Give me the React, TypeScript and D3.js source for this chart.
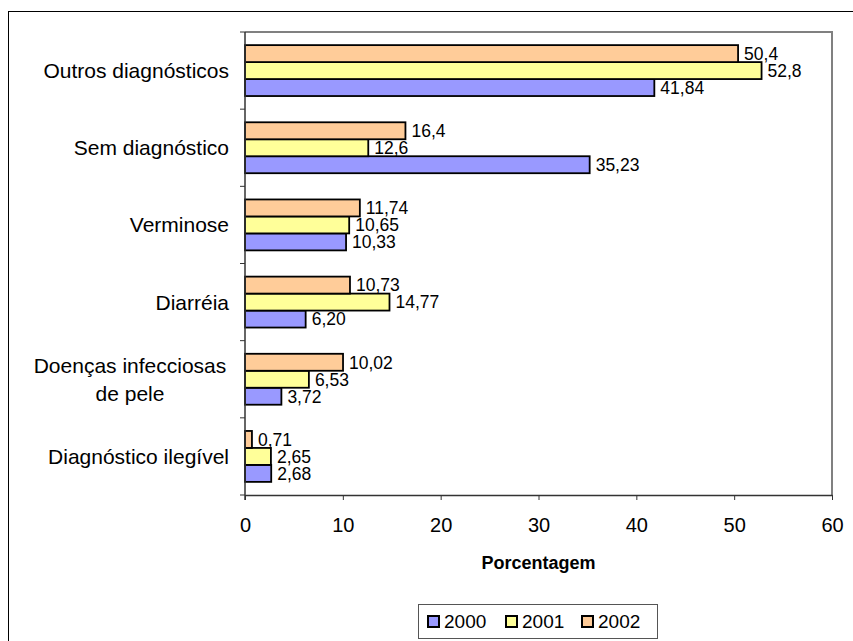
import { useEffect, useRef } from 'react';
import * as d3 from 'd3';

// categories top to bottom
const categories = [
  'Outros diagnósticos',
  'Sem diagnóstico',
  'Verminose',
  'Diarréia',
  'Doenças infecciosas de pele',
  'Diagnóstico ilegível',
];
const years = ['2000', '2001', '2002'];
const values2000 = [41.84, 35.23, 10.33, 6.2, 3.72, 2.68];
const values2001 = [52.8, 12.6, 10.65, 14.77, 6.53, 2.65];
const values2002 = [50.4, 16.4, 11.74, 10.73, 10.02, 0.71];
const labels2000 = ['41,84', '35,23', '10,33', '6,20', '3,72', '2,68'];
const labels2001 = ['52,8', '12,6', '10,65', '14,77', '6,53', '2,65'];
const labels2002 = ['50,4', '16,4', '11,74', '10,73', '10,02', '0,71'];
const xTicks = [0, 10, 20, 30, 40, 50, 60];

const colors = { '2000': '#9999ff', '2001': '#ffff99', '2002': '#ffcc99' };
const FONT = 'Liberation Sans, Arial, sans-serif';

const App = () => {
  const chartRef = useRef<SVGSVGElement>(null);

  useEffect(() => {
    const svg = d3.select(chartRef.current);
    svg.selectAll('*').remove();

    const left = 245, right = 832, top = 32, bottom = 495;

    // outer frame
    svg.append('rect')
      .attr('x', 8.5).attr('y', 11.5)
      .attr('width', 900).attr('height', 700)
      .attr('fill', 'white').attr('stroke', 'black');

    const x = d3.scaleLinear().domain([0, 60]).range([left, right]);
    const y = d3.scaleBand().domain(categories).range([top, bottom]).paddingInner(0.34).paddingOuter(0.17);
    // order in a group: 2002 on top, 2000 at bottom
    const inner = d3.scaleBand().domain(['2002', '2001', '2000']).range([0, y.bandwidth()]);

    // plot area border (gray top/right)
    svg.append('path')
      .attr('d', `M${left},${top}H${right}V${bottom}`)
      .attr('fill', 'none').attr('stroke', '#808080').attr('stroke-width', 2);

    const series = [
      { year: '2000', values: values2000, labels: labels2000 },
      { year: '2001', values: values2001, labels: labels2001 },
      { year: '2002', values: values2002, labels: labels2002 },
    ];

    series.forEach((s) => {
      const g = svg.append('g');
      g.selectAll('rect')
        .data(s.values)
        .enter()
        .append('rect')
        .attr('x', x(0))
        .attr('y', (d, i) => y(categories[i])! + inner(s.year)!)
        .attr('width', (d) => x(d) - x(0))
        .attr('height', inner.bandwidth())
        .attr('fill', colors[s.year])
        .attr('stroke', 'black')
        .attr('stroke-width', 1.8);
      g.selectAll('text')
        .data(s.values)
        .enter()
        .append('text')
        .attr('x', (d) => x(d) + 6)
        .attr('y', (d, i) => y(categories[i])! + inner(s.year)! + inner.bandwidth() / 2)
        .attr('dy', '0.36em')
        .attr('font-family', FONT)
        .attr('font-size', 17.5)
        .text((d, i) => s.labels[i]);
    });

    // X axis
    const xAxis = svg.append('g')
      .attr('transform', `translate(0,${bottom})`)
      .call(d3.axisBottom(x).tickValues(xTicks).tickSize(5).tickSizeOuter(0).tickFormat(d3.format('d')));
    xAxis.select('.domain').attr('stroke', '#333').attr('stroke-width', 1.5);
    xAxis.selectAll('.tick line').attr('stroke', '#333');
    xAxis.selectAll('text')
      .attr('font-family', FONT).attr('font-size', 20).attr('fill', 'black')
      .attr('y', 37).attr('dy', 0);

    // Y axis with ticks between categories
    svg.append('line')
      .attr('x1', left).attr('x2', left).attr('y1', top).attr('y2', bottom + 5)
      .attr('stroke', '#333').attr('stroke-width', 1.5);
    const step = (bottom - top) / categories.length;
    d3.range(categories.length + 1).forEach((i) => {
      svg.append('line')
        .attr('x1', left - 5).attr('x2', left)
        .attr('y1', top + i * step).attr('y2', top + i * step)
        .attr('stroke', '#333');
    });

    // category labels
    categories.forEach((c) => {
      const cy = y(c)! + y.bandwidth() / 2;
      if (c === 'Doenças infecciosas de pele') {
        const t = svg.append('text')
          .attr('font-family', FONT).attr('font-size', 21).attr('text-anchor', 'middle');
        t.append('tspan').attr('x', 130).attr('y', cy - 14).attr('dy', '0.36em').text('Doenças infecciosas');
        t.append('tspan').attr('x', 130).attr('y', cy + 14).attr('dy', '0.36em').text('de pele');
      } else {
        svg.append('text')
          .attr('x', 229).attr('y', cy).attr('dy', '0.36em')
          .attr('text-anchor', 'end')
          .attr('font-family', FONT).attr('font-size', 21)
          .text(c);
      }
    });

    // axis title
    svg.append('text')
      .attr('x', (left + right) / 2).attr('y', 569)
      .attr('text-anchor', 'middle')
      .attr('font-family', FONT).attr('font-size', 18).attr('font-weight', 'bold')
      .text('Porcentagem');

    // legend
    const legend = svg.append('g');
    legend.append('rect')
      .attr('x', 418.5).attr('y', 604.5).attr('width', 239).attr('height', 34)
      .attr('fill', 'white').attr('stroke', '#555');
    const legendX = [428, 506, 582];
    years.forEach((yr, i) => {
      legend.append('rect')
        .attr('x', legendX[i]).attr('y', 616).attr('width', 11).attr('height', 11)
        .attr('fill', colors[yr]).attr('stroke', 'black').attr('stroke-width', 2);
      legend.append('text')
        .attr('x', legendX[i] + 16).attr('y', 621.5).attr('dy', '0.36em')
        .attr('font-family', FONT).attr('font-size', 19)
        .text(yr);
    });

    return () => d3.select(chartRef.current).selectAll('*').remove();
  }, []);

  return (
    <svg
      ref={chartRef}
      width={853}
      height={641}
      style={{ position: 'absolute', left: 0, top: 0, background: 'white' }}
    ></svg>
  );
};

export default App;
